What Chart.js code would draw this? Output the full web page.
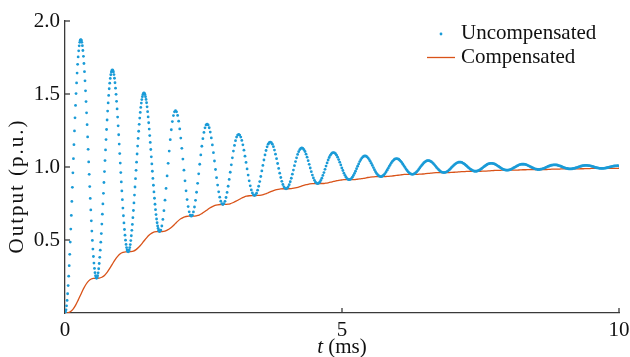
<!DOCTYPE html>
<html>
<head>
<meta charset="utf-8">
<script src="https://cdn.jsdelivr.net/npm/chart.js@4/dist/chart.umd.min.js"></script>
<style>
  html, body { margin: 0; padding: 0; background: #fff; }
</style>
</head>
<body>
<canvas id="myChart" width="630" height="357"></canvas>
<script>
// ticks
const xTicks = [0, 5, 10];
const yTicks = [0.5, 1.0, 1.5, 2.0];

// sampling of the traces (ms)
const fineStep = 0.0095;     // first 3 periods of the uncompensated trace
const coarseStep = 0.019;    // rest of it
const coarseStart = 1.71;
const compStep = 0.0475;     // compensated line

// uncompensated output, t = 0 .. 1.7 ms
const uncStart = [
  0, .006, .022, .049, .086, .132, .188, .252, .324, .402,
  .486, .575, .668, .764, .861, .960, 1.057, 1.153, 1.247, 1.337,
  1.422, 1.503, 1.576, 1.643, 1.703, 1.754, 1.796, 1.830, 1.854, 1.868,
  1.873, 1.868, 1.854, 1.831, 1.798, 1.758, 1.709, 1.653, 1.590, 1.522,
  1.448, 1.371, 1.290, 1.206, 1.121, 1.035, .950, .866, .785, .706,
  .631, .561, .497, .438, .387, .342, .305, .276, .255, .242,
  .238, .242, .255, .275, .303, .339, .381, .430, .485, .544,
  .609, .677, .747, .820, .894, .969, 1.044, 1.117, 1.188, 1.257,
  1.322, 1.383, 1.439, 1.490, 1.536, 1.574, 1.607, 1.632, 1.650, 1.661,
  1.665, 1.661, 1.651, 1.633, 1.608, 1.577, 1.540, 1.498, 1.450, 1.398,
  1.342, 1.282, 1.221, 1.157, 1.092, 1.027, .962, .898, .836, .776,
  .719, .666, .617, .572, .533, .499, .470, .448, .432, .423,
  .419, .423, .432, .448, .469, .496, .529, .566, .607, .653,
  .702, .754, .808, .863, .920, .977, 1.033, 1.089, 1.143, 1.196,
  1.245, 1.292, 1.335, 1.374, 1.408, 1.438, 1.462, 1.482, 1.496, 1.504,
  1.507, 1.504, 1.496, 1.482, 1.463, 1.440, 1.412, 1.379, 1.343, 1.303,
  1.260, 1.215, 1.168, 1.120, 1.070, 1.021, .971, .922, .875, .829,
  .786, .745, .708, .674, .644, .618, .596, .580, .567, .560
];

// uncompensated output, t = 1.71 .. 10 ms
const uncRest = [
  .558, .567, .596, .641, .701, .773, .853, .939, 1.025, 1.109, 1.187, 1.255, 1.311, 1.352, 1.378,
  1.386, 1.378, 1.353, 1.314, 1.261, 1.198, 1.128, 1.054, .978, .905, .837, .777, .729, .693, .670,
  .663, .670, .692, .726, .772, .827, .888, .953, 1.019, 1.083, 1.142, 1.194, 1.237, 1.268, 1.288,
  1.294, 1.288, 1.269, 1.239, 1.199, 1.151, 1.098, 1.041, .983, .927, .876, .830, .793, .766, .749,
  .743, .749, .765, .791, .826, .868, .915, .964, 1.015, 1.063, 1.109, 1.148, 1.180, 1.205, 1.219,
  1.224, 1.219, 1.205, 1.182, 1.152, 1.115, 1.074, 1.031, .987, .945, .905, .871, .843, .822, .809,
  .804, .809, .821, .841, .868, .900, .935, .973, 1.011, 1.048, 1.083, 1.113, 1.138, 1.156, 1.167,
  1.171, 1.167, 1.156, 1.139, 1.116, 1.088, 1.057, 1.024, .990, .958, .928, .902, .880, .864, .854,
  .851, .854, .864, .879, .899, .923, .951, .979, 1.009, 1.037, 1.063, 1.086, 1.105, 1.119, 1.127,
  1.130, 1.127, 1.119, 1.106, 1.088, 1.067, 1.043, 1.018, .993, .968, .945, .925, .909, .896, .889,
  .886, .889, .896, .908, .923, .942, .962, .984, 1.006, 1.028, 1.048, 1.065, 1.080, 1.090, 1.097,
  1.099, 1.097, 1.091, 1.081, 1.067, 1.051, 1.033, 1.014, .994, .976, .958, .943, .930, .921, .915,
  .913, .915, .921, .930, .942, .956, .971, .988, 1.005, 1.021, 1.037, 1.050, 1.061, 1.069, 1.074,
  1.076, 1.074, 1.069, 1.061, 1.051, 1.039, 1.025, 1.011, .996, .981, .968, .956, .947, .940, .936,
  .934, .935, .940, .946, .955, .966, .978, .991, 1.004, 1.016, 1.028, 1.038, 1.046, 1.053, 1.056,
  1.058, 1.056, 1.053, 1.047, 1.039, 1.030, 1.019, 1.008, .997, .986, .976, .967, .960, .954, .951,
  .950, .951, .954, .959, .966, .974, .983, .993, 1.003, 1.012, 1.021, 1.029, 1.035, 1.040, 1.043,
  1.044, 1.043, 1.040, 1.036, 1.030, 1.023, 1.015, 1.006, .997, .989, .981, .975, .969, .965, .963,
  .962, .963, .965, .969, .974, .980, .987, .995, 1.002, 1.009, 1.016, 1.022, 1.027, 1.030, 1.033,
  1.033, 1.033, 1.031, 1.027, 1.023, 1.017, 1.011, 1.005, .998, .992, .986, .981, .977, .973, .971,
  .971, .971, .973, .976, .980, .985, .990, .996, 1.002, 1.007, 1.012, 1.017, 1.021, 1.023, 1.025,
  1.025, 1.025, 1.023, 1.021, 1.017, 1.013, 1.008, 1.004, .999, .994, .989, .985, .982, .980, .978,
  .978, .978, .980, .982, .985, .989, .993, .997, 1.001, 1.005, 1.009, 1.013, 1.016, 1.018, 1.019,
  1.019, 1.019, 1.018, 1.016, 1.013, 1.010, 1.006, 1.003, .999, .995, .992, .989, .986, .985, .983,
  .983, .983, .985, .986, .989, .991, .994, .998, 1.001, 1.004, 1.007, 1.010, 1.012, 1.013, 1.014,
  1.015, 1.014, 1.014, 1.012, 1.010, 1.008, 1.005, 1.002, .999, .996, .994, .991, .990, .988, .987,
  .987, .987, .988, .990, .991, .993, .996, .998, 1.001, 1.003, 1.005, 1.007, 1.009, 1.010, 1.011,
  1.011, 1.011, 1.010, 1.009, 1.008, 1.006, 1.004, 1.002, .999, .997, .995, .994, .992, .991, .990,
  .990, .990, .991, .992, .993, .995, .997, .999, 1.001, 1.002, 1.004, 1.006, 1.007, 1.008, 1.008,
  1.009, 1.008
];

// compensated output
const comp = [
  0, .001, .008, .025, .052, .088, .127, .165, .197, .220, .233, .237,
  .238, .239, .245, .257, .278, .305, .335, .364, .388, .406, .415, .419,
  .419, .420, .424, .434, .450, .470, .493, .515, .534, .547, .555, .557,
  .558, .558, .561, .569, .581, .596, .614, .631, .645, .655, .661, .663,
  .663, .663, .666, .671, .681, .693, .706, .719, .729, .737, .741, .743,
  .743, .744, .745, .750, .757, .766, .776, .786, .794, .800, .803, .804,
  .804, .805, .806, .809, .815, .822, .829, .837, .843, .847, .850, .851,
  .851, .851, .852, .855, .859, .864, .870, .876, .880, .884, .886, .886,
  .886, .887, .887, .889, .892, .896, .901, .905, .909, .911, .913, .913,
  .913, .914, .914, .916, .918, .921, .924, .928, .930, .932, .934, .934,
  .934, .934, .935, .936, .938, .940, .942, .945, .947, .949, .949, .950,
  .950, .950, .950, .951, .952, .954, .956, .958, .960, .961, .961, .962,
  .962, .962, .962, .963, .964, .965, .967, .968, .969, .970, .971, .971,
  .971, .971, .971, .972, .972, .973, .975, .976, .977, .977, .978, .978,
  .978, .978, .978, .978, .979, .980, .981, .981, .982, .983, .983, .983,
  .983, .983, .983, .983, .984, .985, .985, .986, .986, .987, .987, .987,
  .987, .987, .987, .987, .988, .988, .989, .989, .990, .990, .990, .990,
  .990, .990, .990, .990, .991, .991, .991, .992
];

const blue = '#1a9bd7';
const red = '#d95319';
const axisColor = '#3a3a3a';
const serif = '"Liberation Serif", "Times New Roman", serif';

var uncPoints = uncStart.map((v, i) => ({ x: i * fineStep, y: v }))
  .concat(uncRest.map((v, i) => ({ x: coarseStart + i * coarseStep, y: v })));
var compPoints = comp.map((v, i) => ({ x: i * compStep, y: v }));

// inward ticks, axis titles and the legend box
var extras = {
  id: 'extras',
  afterDraw(chart) {
    var c = chart.ctx, xs = chart.scales.x, ys = chart.scales.y, a = chart.chartArea;
    c.save();
    c.strokeStyle = axisColor;
    c.lineWidth = 1.3;
    yTicks.forEach(v => {
      var py = ys.getPixelForValue(v);
      c.beginPath(); c.moveTo(a.left, py); c.lineTo(a.left + 5, py); c.stroke();
    });
    xTicks.forEach(v => {
      if (v === 0) return;
      var px = xs.getPixelForValue(v);
      c.beginPath(); c.moveTo(px, a.bottom); c.lineTo(px, a.bottom - 5); c.stroke();
    });

    c.fillStyle = '#111';
    c.textBaseline = 'middle';
    // x title, italic t
    c.font = 'italic 21px ' + serif;
    var w1 = c.measureText('t').width;
    c.font = '21px ' + serif;
    var w2 = c.measureText(' (ms)').width;
    var x0 = (a.left + a.right) / 2 - (w1 + w2) / 2;
    c.textAlign = 'left';
    c.font = 'italic 21px ' + serif;
    c.fillText('t', x0, 347);
    c.font = '21px ' + serif;
    c.fillText(' (ms)', x0 + w1, 347);

    // y title (a bit spread out like the original)
    c.save();
    c.translate(17, 186);
    c.rotate(-Math.PI / 2);
    c.textAlign = 'center';
    c.letterSpacing = '2px';
    c.fillText('Output (p.u.)', 0, 0);
    c.restore();

    // legend
    c.fillStyle = blue;
    c.beginPath(); c.arc(441, 34, 1.4, 0, Math.PI * 2); c.fill();
    c.strokeStyle = red;
    c.lineWidth = 1.3;
    c.beginPath(); c.moveTo(427, 57.5); c.lineTo(455, 57.5); c.stroke();
    c.fillStyle = '#111';
    c.textAlign = 'left';
    c.fillText('Uncompensated', 461, 33);
    c.fillText('Compensated', 461, 57);
    c.restore();
  }
};

const ctx = document.getElementById('myChart');
new Chart(ctx, {
  type: 'scatter',
  data: {
    datasets: [{
      label: 'Uncompensated',
      data: uncPoints,
      showLine: false,
      pointRadius: 1.4,
      pointBackgroundColor: blue,
      pointBorderWidth: 0,
      order: 1
    }, {
      label: 'Compensated',
      data: compPoints,
      showLine: true,
      pointRadius: 0,
      borderColor: red,
      borderWidth: 1.3,
      cubicInterpolationMode: 'monotone',
      order: 2
    }]
  },
  options: {
    responsive: false,
    animation: false,
    devicePixelRatio: 1,
    layout: { padding: { top: 21, right: 11, left: 0, bottom: 0 } },
    plugins: { legend: { display: false }, tooltip: { enabled: false } },
    scales: {
      x: {
        type: 'linear',
        min: 0,
        max: 10,
        afterBuildTicks: s => { s.ticks = xTicks.map(v => ({ value: v })); },
        // fixed height, and no extra room asked for the end labels
        afterFit: s => { s.height = 44; s.paddingLeft = 0; s.paddingRight = 0; },
        grid: { display: false, drawTicks: false },
        border: { display: true, color: axisColor, width: 1.3 },
        ticks: { color: '#111', padding: 5, maxRotation: 0, font: { family: serif, size: 21 } }
      },
      y: {
        min: 0,
        max: 2,
        afterBuildTicks: s => { s.ticks = yTicks.map(v => ({ value: v })); },
        afterFit: s => { s.width = 65; s.paddingTop = 0; s.paddingBottom = 0; },
        grid: { display: false, drawTicks: false },
        border: { display: true, color: axisColor, width: 1.3 },
        ticks: { color: '#111', padding: 5, font: { family: serif, size: 21 }, callback: v => v.toFixed(1) }
      }
    }
  },
  plugins: [extras]
});
</script>
</body>
</html>
